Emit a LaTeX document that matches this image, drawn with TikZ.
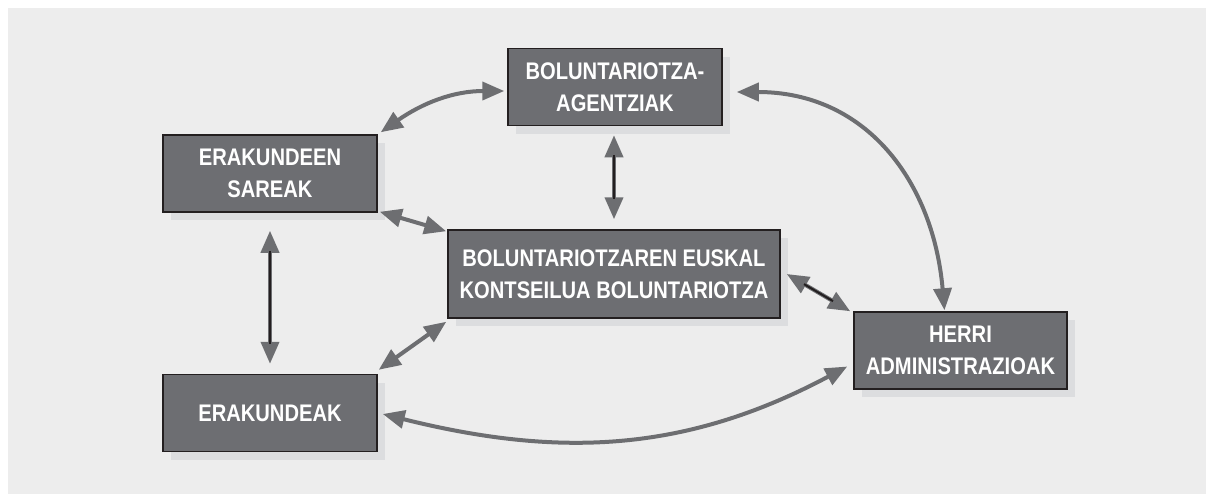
\documentclass[tikz,border=0pt]{standalone}
\usepackage{fontspec}
\usepackage{tikz}
\usetikzlibrary{arrows.meta,shadows}
\newfontfamily\boxfont[FakeStretch=0.84]{Liberation Sans}
\definecolor{bggray}{HTML}{EDEDED}
\definecolor{boxgray}{HTML}{6D6E72}
\definecolor{boxline}{HTML}{231F20}
\definecolor{shadowgray}{HTML}{DCDDDF}
\definecolor{arrowgray}{HTML}{6D6E71}

\begin{document}
\begin{tikzpicture}[x=0.5pt,y=-0.5pt,
  box/.style={rectangle,draw=boxline,line width=0.75pt,fill=boxgray,text=white,
    align=center,minimum width=107pt,minimum height=38.5pt,
    font=\boxfont\bfseries\fontsize{12}{16}\selectfont,
    general shadow={fill=shadowgray,shadow xshift=4pt,shadow yshift=-4pt}},
  arr/.style={draw=arrowgray,line width=2pt,
    {Triangle[length=11pt,width=9pt]}-{Triangle[length=11pt,width=9pt]}},
  core/.style={draw=boxline,line width=1pt,shorten <=10pt,shorten >=10pt}]
\useasboundingbox (0,0) rectangle (1206,494);
\fill[white] (0,0) rectangle (1206,494);
\fill[bggray] (8,8) rectangle (1206,494);

\node[box] (agency) at (615,87) {BOLUNTARIOTZA-\\AGENTZIAK};
\node[box] (sareak) at (270,173.5) {ERAKUNDEEN\\SAREAK};
\node[box,minimum width=166pt,minimum height=44pt] (council) at (614,274)
  {BOLUNTARIOTZAREN EUSKAL\\KONTSEILUA BOLUNTARIOTZA};
\node[box] (erakundeak) at (270,413) {ERAKUNDEAK};
\node[box,minimum width=106.5pt] (herri) at (960.5,350.5) {HERRI\\ADMINISTRAZIOAK};

% curved links
\draw[arr] ([shift={(3,-2)}]sareak.north east) to[out=35,in=180] ([shift={(-3,4)}]agency.west);
\draw[arr] ([shift={(14,5)}]agency.east) to[out=0,in=95,looseness=1.1] ([shift={(-16,-1)}]herri.north);
\draw[arr] ([shift={(5,1)}]erakundeak.east) to[out=-14,in=208] ([shift={(-6,16)}]herri.west);

% straight links
\draw[arr] ([shift={(2,-1)}]sareak.south east) -- ([shift={(-1,2)}]council.north west);
\draw[arr] ([shift={(1,-4)}]erakundeak.north east) -- ([shift={(-1,3)}]council.south west);
\draw[arr] ([shift={(6,0)}]council.east) -- ([shift={(-3,0)}]herri.north west);
\draw[core] ([shift={(6,0)}]council.east) -- ([shift={(-3,0)}]herri.north west);
\draw[arr] ([shift={(0,18)}]sareak.south) -- ([shift={(0,-10)}]erakundeak.north);
\draw[core] ([shift={(0,18)}]sareak.south) -- ([shift={(0,-10)}]erakundeak.north);
\draw[arr] ([shift={(-1,9)}]agency.south) -- ([shift={(0,-10)}]council.north);
\draw[core] ([shift={(-1,9)}]agency.south) -- ([shift={(0,-10)}]council.north);
\end{tikzpicture}
\end{document}
